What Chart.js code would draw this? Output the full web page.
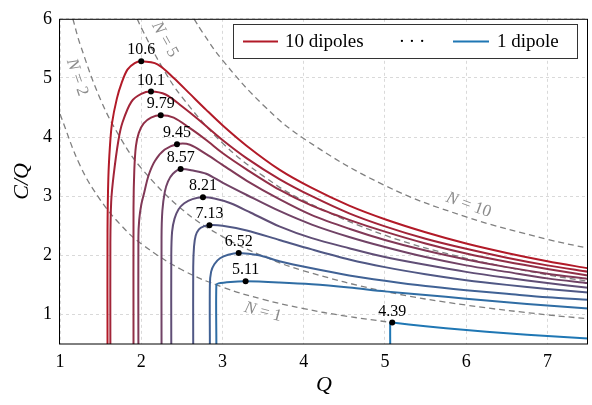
<!DOCTYPE html>
<html>
<head>
<meta charset="utf-8">
<script src="https://cdn.jsdelivr.net/npm/chart.js@4.4.0/dist/chart.umd.min.js"></script>
<style>
  html, body { margin: 0; padding: 0; background: #fff; }
</style>
</head>
<body>
<canvas id="chartCanvas" width="592" height="405"></canvas>
<script>
// curves C/Q vs Q, one per number of dipoles, as [Q, C/Q]
const dip10 = [[1.585,0.5],[1.585,2.4],[1.595,3.3],[1.615,3.85],[1.64,4.23],[1.70,4.65],[1.76,4.92],[1.83,5.14],[1.92,5.25],[2.0,5.28],[2.2,5.23],[2.4,5.0],[2.6,4.73],[2.8,4.46],[3.0,4.2],[3.3,3.85],[3.7,3.45],[4.1,3.14],[4.56,2.84],[5.0,2.61],[5.5,2.39],[6.0,2.2],[6.5,2.04],[7.0,1.9],[7.5,1.78]];
const dip9 = [[1.62,0.5],[1.62,2.2],[1.63,2.9],[1.66,3.35],[1.72,3.95],[1.77,4.25],[1.88,4.6],[2.0,4.73],[2.12,4.77],[2.3,4.72],[2.5,4.52],[2.7,4.3],[3.0,3.95],[3.3,3.64],[3.7,3.29],[4.1,3.0],[4.56,2.71],[5.0,2.49],[5.5,2.28],[6.0,2.11],[6.5,1.96],[7.0,1.83],[7.5,1.72]];
const dip8 = [[1.905,0.5],[1.905,2.8],[1.915,3.45],[1.935,3.85],[1.97,4.07],[2.03,4.23],[2.12,4.33],[2.24,4.37],[2.4,4.33],[2.6,4.15],[2.8,3.95],[3.0,3.73],[3.3,3.45],[3.7,3.11],[4.1,2.84],[4.56,2.6],[5.0,2.4],[5.5,2.2],[6.0,2.03],[6.5,1.89],[7.0,1.77],[7.5,1.66]];
const dip7 = [[1.965,0.5],[1.965,2.3],[1.975,2.6],[2.0,2.85],[2.035,3.05],[2.09,3.35],[2.17,3.6],[2.29,3.79],[2.44,3.88],[2.6,3.87],[2.8,3.71],[3.0,3.53],[3.3,3.26],[3.7,2.95],[4.1,2.68],[4.56,2.45],[5.0,2.26],[5.5,2.08],[6.0,1.93],[6.5,1.8],[7.0,1.69],[7.5,1.6]];
const dip6 = [[2.25,0.5],[2.25,2.3],[2.26,2.75],[2.29,3.07],[2.33,3.25],[2.39,3.38],[2.485,3.46],[2.65,3.43],[2.8,3.38],[3.0,3.23],[3.3,3.02],[3.7,2.75],[4.1,2.52],[4.56,2.31],[5.0,2.14],[5.5,1.97],[6.0,1.83],[6.5,1.72],[7.0,1.61],[7.5,1.53]];
const dip5 = [[2.37,0.5],[2.37,2.0],[2.38,2.4],[2.41,2.62],[2.46,2.78],[2.53,2.88],[2.63,2.95],[2.76,2.98],[2.9,2.96],[3.1,2.88],[3.35,2.72],[3.7,2.49],[4.1,2.29],[4.56,2.12],[5.0,1.97],[5.5,1.84],[6.0,1.72],[6.5,1.62],[7.0,1.53],[7.5,1.45]];
const dip4 = [[2.64,0.5],[2.64,1.8],[2.65,2.15],[2.67,2.33],[2.71,2.44],[2.77,2.49],[2.84,2.51],[3.0,2.5],[3.3,2.42],[3.7,2.26],[4.1,2.1],[4.56,1.93],[5.0,1.8],[5.5,1.68],[6.0,1.58],[6.5,1.5],[7.0,1.43],[7.5,1.37]];
const dip3 = [[2.845,0.5],[2.845,1.5],[2.86,1.72],[2.9,1.85],[2.97,1.95],[3.07,2.01],[3.2,2.04],[3.45,2.0],[3.7,1.9],[4.1,1.78],[4.56,1.66],[5.0,1.57],[5.5,1.48],[6.0,1.41],[6.5,1.35],[7.0,1.29],[7.5,1.25]];
const dip2 = [[2.925,0.5],[2.925,1.5],[2.95,1.525],[3.1,1.55],[3.285,1.56],[3.7,1.54],[4.1,1.51],[4.56,1.455],[5.0,1.39],[5.5,1.33],[6.0,1.265],[6.5,1.205],[7.0,1.15],[7.5,1.1]];
const dip1 = [[5.065,0.5],[5.065,0.86],[5.09,0.862],[5.5,0.8],[6.0,0.735],[6.5,0.68],[7.0,0.635],[7.5,0.595]];

// marked maxima and their C values
const peakQ = [2.0, 2.12, 2.24, 2.44, 2.485, 2.76, 2.84, 3.2, 3.285, 5.09];
const peakY = [5.28, 4.77, 4.37, 3.88, 3.46, 2.98, 2.51, 2.04, 1.56, 0.862];
const peakLabels = ['10.6', '10.1', '9.79', '9.45', '8.57', '8.21', '7.13', '6.52', '5.11', '4.39'];

// dashed guide curves
const guideN1 = [[1.0,4.39],[1.25,3.51],[1.5,2.93],[1.75,2.51],[2.0,2.195],[2.5,1.756],[3.0,1.463],[3.5,1.254],[4.0,1.098],[4.5,0.976],[5.09,0.862]];
const guideN2 = [[1.158,6.0],[1.25,5.56],[1.5,4.63],[1.75,3.97],[2.0,3.475],[2.5,2.78],[3.0,2.317],[3.5,1.986],[4.0,1.738],[5.0,1.39],[6.0,1.158],[7.0,0.993],[7.5,0.927]];
const guideN5 = [[1.95,6.0],[2.0,5.85],[2.25,5.2],[2.5,4.68],[3.0,3.9],[3.5,3.343],[4.0,2.925],[5.0,2.34],[6.0,1.95],[7.0,1.671],[7.5,1.56]];
const guideN10 = [[2.65,6.0],[2.75,5.78],[3.0,5.3],[3.5,4.543],[4.0,3.975],[5.0,3.18],[6.0,2.65],[7.0,2.271],[7.5,2.12]];

const xTicks = [1, 2, 3, 4, 5, 6, 7];
const yTicks = [1, 2, 3, 4, 5, 6];

const curves = [dip10, dip9, dip8, dip7, dip6, dip5, dip4, dip3, dip2, dip1];
const guides = [guideN1, guideN2, guideN5, guideN10];

const SERIF = '"Liberation Serif", "DejaVu Serif", serif';
const RED = [178, 26, 40];
const BLUE = [31, 119, 180];

function curveColor(i) {
    const t = i / (curves.length - 1);
    const c = RED.map((v, k) => Math.round(v + (BLUE[k] - v) * t));
    return 'rgb(' + c.join(',') + ')';
}

const toXY = pts => pts.map(p => ({ x: p[0], y: p[1] }));

const datasets = [];
// dots first so they end up on top
datasets.push({
    type: 'scatter',
    data: peakQ.map((q, i) => ({ x: q, y: peakY[i] })),
    pointRadius: 3,
    pointBackgroundColor: '#000',
    pointBorderWidth: 0,
    showLine: false
});
curves.forEach((pts, i) => {
    datasets.push({
        data: toXY(pts),
        borderColor: curveColor(i),
        borderWidth: 2,
        pointRadius: 0,
        tension: i === curves.length - 1 ? 0.05 : 0.3,
        fill: false
    });
});
guides.forEach(pts => {
    datasets.push({
        data: toXY(pts),
        borderColor: '#808080',
        borderWidth: 1.3,
        borderDash: [6, 4],
        pointRadius: 0,
        tension: 0.4,
        fill: false
    });
});

// guide labels: text after "N =", anchor (Q, C/Q) and rotation in degrees
const guideNotes = [
    { n: '2', q: 1.21, y: 5.01, rot: 71 },
    { n: '5', q: 2.29, y: 5.65, rot: 61 },
    { n: '10', q: 6.03, y: 2.85, rot: 20 },
    { n: '1', q: 3.5, y: 1.04, rot: 15 }
];

const annotate = {
    id: 'annotate',
    afterDatasetsDraw(chart) {
        const { ctx, chartArea: a, scales: { x, y } } = chart;
        ctx.save();

        // frame
        ctx.strokeStyle = '#000';
        ctx.lineWidth = 1;
        ctx.setLineDash([]);
        ctx.strokeRect(a.left - 0.5, a.top + 0.5, a.right - a.left, a.bottom - a.top - 0.5);

        // peak values
        ctx.fillStyle = '#000';
        ctx.font = '16px ' + SERIF;
        ctx.textAlign = 'center';
        ctx.textBaseline = 'alphabetic';
        peakLabels.forEach((t, i) => {
            ctx.fillText(t, x.getPixelForValue(peakQ[i]), y.getPixelForValue(peakY[i]) - 7);
        });

        // N = ... labels
        ctx.fillStyle = '#8c8c8c';
        guideNotes.forEach(g => {
            ctx.save();
            ctx.translate(x.getPixelForValue(g.q), y.getPixelForValue(g.y));
            ctx.rotate(g.rot * Math.PI / 180);
            ctx.font = 'italic 17px ' + SERIF;
            const wN = ctx.measureText('N').width;
            ctx.font = '17px ' + SERIF;
            const rest = ' = ' + g.n;
            const wR = ctx.measureText(rest).width;
            const x0 = -(wN + wR) / 2;
            ctx.textAlign = 'left';
            ctx.textBaseline = 'middle';
            ctx.font = 'italic 17px ' + SERIF;
            ctx.fillText('N', x0, 0);
            ctx.font = '17px ' + SERIF;
            ctx.fillText(rest, x0 + wN, 0);
            ctx.restore();
        });

        // legend
        ctx.fillStyle = '#fff';
        ctx.fillRect(233.5, 24.5, 344, 34);
        ctx.strokeStyle = '#333';
        ctx.lineWidth = 1;
        ctx.strokeRect(233.5, 24.5, 344, 34);
        ctx.lineWidth = 2;
        ctx.strokeStyle = curveColor(0);
        ctx.beginPath(); ctx.moveTo(243, 41.5); ctx.lineTo(278, 41.5); ctx.stroke();
        ctx.strokeStyle = curveColor(curves.length - 1);
        ctx.beginPath(); ctx.moveTo(453, 41.5); ctx.lineTo(489, 41.5); ctx.stroke();
        ctx.fillStyle = '#000';
        ctx.font = '19px ' + SERIF;
        ctx.textAlign = 'left';
        ctx.textBaseline = 'middle';
        ctx.fillText('10 dipoles', 285, 42);
        ctx.fillText('1 dipole', 497, 42);
        ctx.textAlign = 'center';
        ctx.fillText('\u00b7\u2009\u00b7\u2009\u00b7', 412, 42);

        // axis titles
        ctx.font = 'italic 22px ' + SERIF;
        ctx.textAlign = 'center';
        ctx.textBaseline = 'middle';
        ctx.fillText('Q', (a.left + a.right) / 2, 385);
        ctx.save();
        ctx.translate(22, (a.top + a.bottom) / 2);
        ctx.rotate(-Math.PI / 2);
        ctx.fillText('C/Q', 0, 0);
        ctx.restore();

        ctx.restore();
    }
};

const ctx = document.getElementById('chartCanvas').getContext('2d');
new Chart(ctx, {
    type: 'line',
    data: { datasets: datasets },
    options: {
        responsive: false,
        animation: false,
        events: [],
        layout: { padding: { top: 14, right: 1, left: 0, bottom: 0 } },
        plugins: { legend: { display: false }, tooltip: { enabled: false } },
        scales: {
            x: {
                type: 'linear',
                min: 1,
                max: 7.5,
                afterBuildTicks: axis => { axis.ticks = xTicks.map(v => ({ value: v })); },
                afterFit: axis => { axis.height = 61; },
                grid: { color: '#d9d9d9', lineWidth: 1, drawTicks: false },
                border: { display: false, dash: [3, 3] },
                ticks: { color: '#000', padding: 7, maxRotation: 0, font: { family: SERIF, size: 18 } }
            },
            y: {
                type: 'linear',
                min: 0.5,
                max: 6,
                afterBuildTicks: axis => { axis.ticks = yTicks.map(v => ({ value: v })); },
                afterFit: axis => { axis.width = 60; },
                grid: { color: '#d9d9d9', lineWidth: 1, drawTicks: false },
                border: { display: false, dash: [3, 3] },
                ticks: { color: '#000', padding: 8, font: { family: SERIF, size: 18 } }
            }
        }
    },
    plugins: [annotate]
});
</script>
</body>
</html>
